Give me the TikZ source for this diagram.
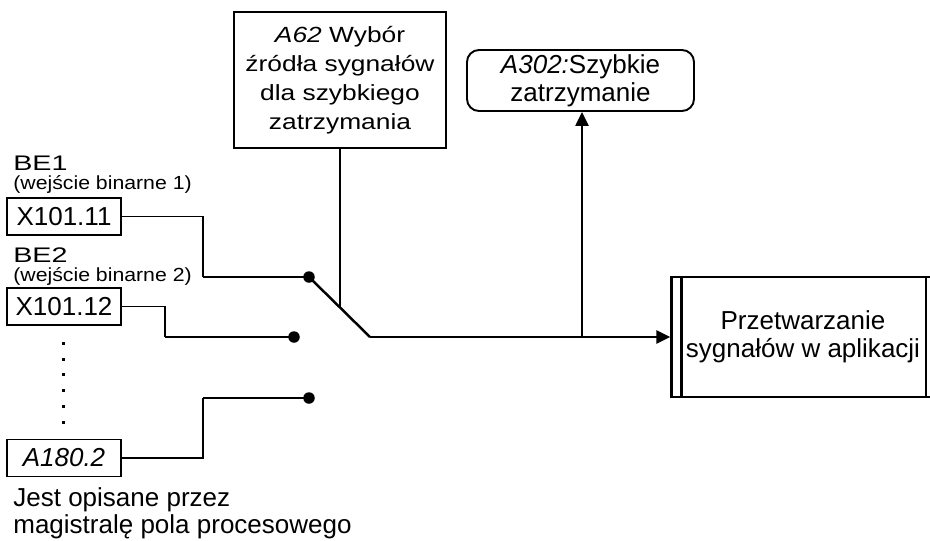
\documentclass[tikz,border=0pt]{standalone}
\usepackage{fontspec}
\setmainfont{Liberation Sans}
\newfontfamily\widefont{Liberation Sans}[FakeStretch=1.2]
\newfontfamily\parenfont{Liberation Sans}[FakeStretch=1.12]
\newfontfamily\befont{Liberation Sans}[FakeStretch=1.36]
\usetikzlibrary{arrows.meta,positioning,calc}

\begin{document}
\begin{tikzpicture}[x=0.2mm,y=-0.2mm,
    blk/.style={draw,line width=1.1pt,inner sep=0pt,align=center,font=\fontsize{14.8}{16}\selectfont},
    inbox/.style={blk,minimum width=22.8mm,minimum height=7.4mm},
    wire/.style={line width=0.8pt},
    bus/.style={line width=1.4pt},
    tip/.style={-{Triangle[length=2.8mm,width=2.6mm]}},
    lbl/.style={anchor=base west,inner sep=0pt}]
    \useasboundingbox (0,0) rectangle (930,540);

    % selector and target blocks
    \node[blk,minimum width=42.4mm,minimum height=27.2mm,font=\widefont\fontsize{12.5}{16.5}\selectfont] (a62) at (340,80)
        {\textit{A62} Wybór\\źródła sygnałów\\dla szybkiego\\zatrzymania};
    \node[blk,rounded corners=2.4mm,minimum width=45.4mm,minimum height=12.2mm] (a302) at (580.5,80.5)
        {\textit{A302:}Szybkie\\zatrzymanie};
    \node[blk,line width=1.3pt,minimum width=52.6mm,minimum height=24mm] (proc) at (803,337)
        {Przetwarzanie\\sygnałów w aplikacji};
    \draw[line width=1.3pt] ($(proc.north west)+(11,0)$) -- ($(proc.south west)+(11,0)$);
    \draw[line width=1.3pt] ($(proc.north east)+(-10,0)$) -- ($(proc.south east)+(-10,0)$);

    % inputs
    \node[lbl,font=\befont\fontsize{12}{14}\selectfont] (be1) at (13,170) {BE1};
    \node[lbl,font=\parenfont\fontsize{10.8}{13}\selectfont] (w1) at (13,189) {(wejście binarne 1)};
    \node[inbox] (x11) at (64,216.5) {X101.11};
    \node[lbl,font=\befont\fontsize{12}{14}\selectfont] (be2) at (13,262) {BE2};
    \node[lbl,font=\parenfont\fontsize{10.8}{13}\selectfont] (w2) at (13,281) {(wejście binarne 2)};
    \node[inbox] (x12) at (64,306.5) {X101.12};
    \node[inbox] (a180) at (64,458) {\itshape A180.2};
    \node[anchor=north west,inner sep=0pt,align=left,font=\fontsize{14.8}{15.4}\selectfont] (bus) at (13,487)
        {Jest opisane przez\\magistralę pola procesowego};
    \foreach \y in {343,359,374,390,406,422}
        \fill (61.5,\y-1.5) rectangle ++(3,3);

    % switch contacts
    \coordinate (d1) at (309,277);
    \coordinate (d2) at (294,337);
    \coordinate (d3) at (309,398);
    \coordinate (sw) at (370,337);
    \coordinate (tap) at ($(d1)!0.5!(sw)$);
    \coordinate (jn) at (582,337);
    \coordinate (k1) at (203,277);
    \coordinate (k2) at (165,337);
    \coordinate (k3) at (203,398);

    \draw[wire] (x11.east) -| (k1);
    \draw[bus] (k1) -- (d1);
    \draw[wire] (x12.east) -| (k2);
    \draw[bus] (k2) -- (d2);
    \draw[wire] (a180.east) -| (k3);
    \draw[bus] (k3) -- (d3);
    \foreach \d in {d1,d2,d3}
        \fill (\d) circle (1.15mm);
    \draw[bus] (d1) -- (sw);
    \draw[bus,tip] (sw) -- (proc.west);
    \draw[bus,tip] (jn) -- (jn |- a302.south);
    \draw[wire] (a62.south) -- (a62.south |- tap);
\end{tikzpicture}
\end{document}
